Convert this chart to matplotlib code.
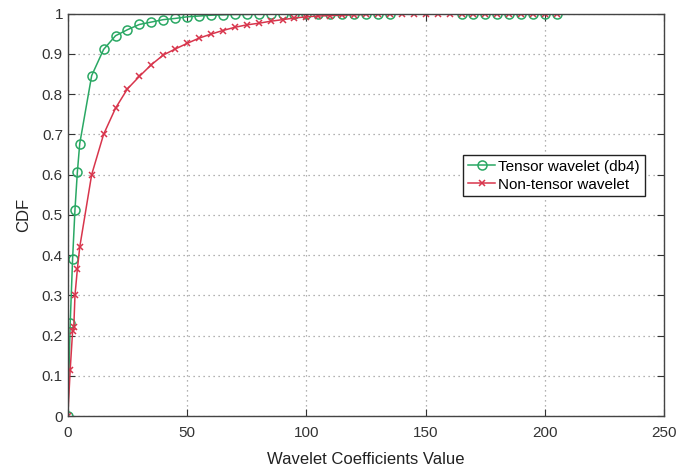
"""CDF of wavelet coefficients: tensor vs non-tensor wavelet."""

import matplotlib
matplotlib.use('Agg')
import matplotlib.pyplot as plt

plt.rcParams['font.family'] = ['Liberation Sans', 'DejaVu Sans']

# Tensor wavelet (db4)
tensorX = [0, 1, 2, 3, 4, 5, 10, 15, 20, 25, 30, 35, 40, 45, 50, 55, 60, 65, 70, 75,
           80, 85, 90, 95, 100, 105, 110, 115, 120, 125, 130, 135,
           165, 170, 175, 180, 185, 190, 195, 200, 205]
tensorCdf = [0.0, 0.23, 0.39, 0.513, 0.606, 0.677, 0.846, 0.911, 0.945, 0.960, 0.973,
             0.979, 0.985, 0.988, 0.992, 0.994, 0.996, 0.997, 0.998, 0.998,
             0.999, 0.999, 0.999, 1.0, 1.0, 1.0, 1.0, 1.0, 1.0, 1.0, 1.0, 1.0,
             1.0, 1.0, 1.0, 1.0, 1.0, 1.0, 1.0, 1.0, 1.0]

# Non-tensor wavelet
nonTensorX = [0, 1, 2, 2.5, 3, 4, 5, 10, 15, 20, 25, 30, 35, 40, 45, 50, 55, 60, 65, 70, 75,
              80, 85, 90, 95, 100, 105, 110, 115, 120, 125, 130, 135, 140, 145, 150,
              155, 160, 165, 170, 175, 180, 185, 190, 195, 200, 205]
nonTensorCdf = [0.0, 0.115, 0.21, 0.22, 0.30, 0.365, 0.42, 0.60, 0.70, 0.765, 0.813, 0.844,
                0.873, 0.897, 0.912, 0.926, 0.939, 0.949, 0.958, 0.966, 0.972,
                0.976, 0.981, 0.985, 0.989, 0.992, 0.994, 0.995, 0.996, 0.997, 0.998,
                0.999, 0.999, 1.0, 1.0, 1.0, 1.0, 1.0, 1.0, 1.0, 1.0, 1.0, 1.0, 1.0,
                1.0, 1.0, 1.0]

green = '#2aa864'
red = '#d8354c'

fig = plt.figure(figsize=(6.92, 4.69), dpi=100)
ax = fig.add_axes([0.098, 0.113, 0.862, 0.858])

ax.plot(tensorX, tensorCdf, color=green, marker='o', markersize=6.5,
        markerfacecolor='none', markeredgewidth=1.1, linewidth=1.1,
        label='Tensor wavelet (db4)')
ax.plot(nonTensorX, nonTensorCdf, color=red, marker='x', markersize=5,
        markeredgewidth=1.1, linewidth=1.1, label='Non-tensor wavelet')

ax.set_xlim(0, 250)
ax.set_ylim(0, 1)
ax.set_xticks([0, 50, 100, 150, 200, 250])
ax.set_yticks([0, 0.1, 0.2, 0.3, 0.4, 0.5, 0.6, 0.7, 0.8, 0.9, 1])
ax.set_yticklabels(['0', '0.1', '0.2', '0.3', '0.4', '0.5', '0.6', '0.7', '0.8', '0.9', '1'])
ax.tick_params(direction='in', length=5, labelsize=11, colors='#333333',
               top=True, right=True)
ax.tick_params(axis='x', pad=7)
for side in ax.spines.values():
    side.set_color('#444444')
    side.set_linewidth(1.0)
ax.grid(True, linestyle=(0, (1, 3)), color='#999999', linewidth=0.9)

ax.set_xlabel('Wavelet Coefficients Value', fontsize=12, labelpad=9, color='#222222')
ax.set_ylabel('CDF', fontsize=12, labelpad=8, color='#222222')

leg = ax.legend(loc='upper right', bbox_to_anchor=(0.967, 0.648), fontsize=11,
                fancybox=False, framealpha=1, edgecolor='#222222',
                borderpad=0.3, handlelength=1.8, handletextpad=0.2,
                labelspacing=0.25, borderaxespad=0)
leg.get_frame().set_linewidth(1.0)

fig.savefig('out.png', dpi=100)
